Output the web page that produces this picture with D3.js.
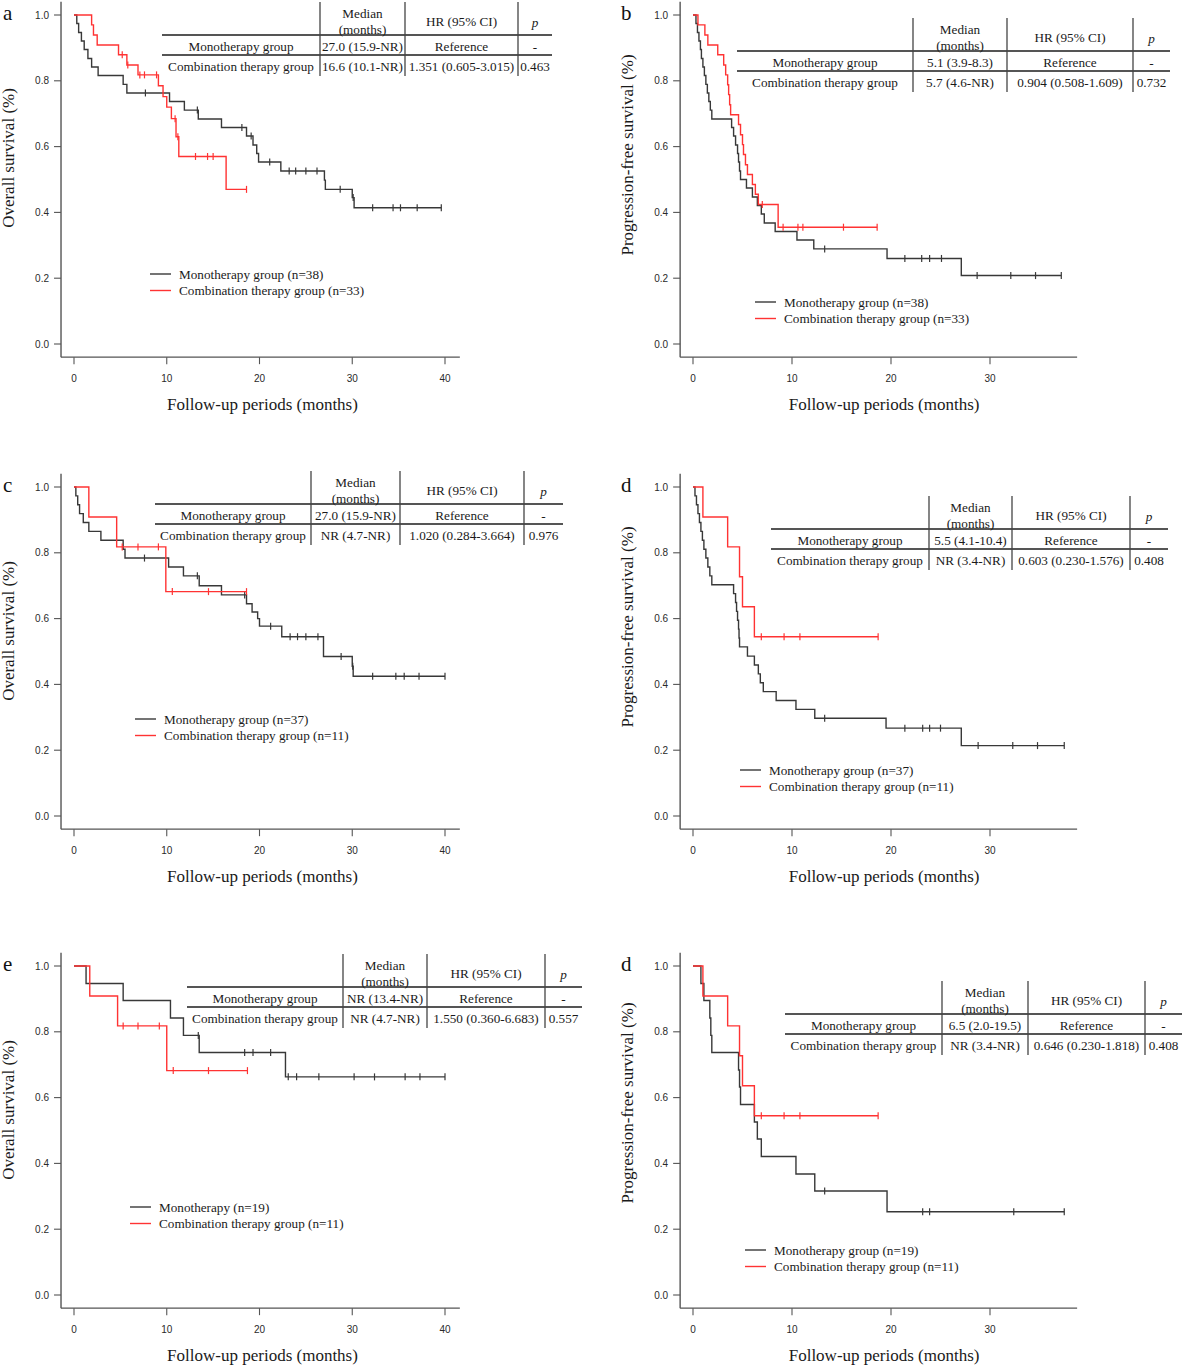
<!DOCTYPE html>
<html>
<head>
<meta charset="utf-8">
<script src="https://cdn.jsdelivr.net/npm/d3@7"></script>
<style>
  body { margin: 0; background: #fff; }
  svg { display: block; }
</style>
</head>
<body>
<div id="chart"></div>
<script>
// Kaplan-Meier steps: [month, survival after the drop]
// a - overall survival, all patients
const aMono = [[0.3,0.974],[0.5,0.947],[0.8,0.921],[1.1,0.895],[1.5,0.868],[1.9,0.842],[2.6,0.816],[5.3,0.789],[5.7,0.763],[10.3,0.737],[11.9,0.711],[13.4,0.684],[15.9,0.658],[18.6,0.632],[19.3,0.605],[19.7,0.579],[19.9,0.553],[22.3,0.526],[27.0,0.498],[27.1,0.47],[30.0,0.445],[30.2,0.414]];
const aMonoCens = [7.7, 13.3, 18.1, 19.1, 21.1, 23.2, 23.9, 25.0, 26.2, 28.7, 30.1, 32.2, 34.4, 35.2, 37.0, 39.6];
const aComb = [[1.9,0.97],[2.1,0.939],[2.5,0.909],[4.8,0.879],[5.7,0.848],[6.9,0.818],[9.1,0.785],[9.6,0.752],[10.0,0.72],[10.5,0.685],[11.0,0.63],[11.3,0.57],[16.4,0.47]];
const aCombCens = [5.2, 5.8, 7.1, 7.6, 8.9, 10.9, 11.2, 13.1, 14.4, 15.0, 18.6];

// b - progression-free survival, all patients
const bMono = [[0.3,0.974],[0.45,0.947],[0.6,0.921],[0.75,0.895],[0.85,0.868],[1.0,0.842],[1.15,0.816],[1.3,0.789],[1.45,0.763],[1.6,0.737],[1.75,0.711],[1.9,0.684],[3.9,0.658],[4.1,0.632],[4.3,0.605],[4.5,0.579],[4.6,0.553],[4.7,0.526],[4.8,0.5],[5.4,0.474],[6.0,0.447],[6.5,0.421],[6.9,0.395],[7.2,0.368],[8.3,0.342],[10.5,0.316],[12.2,0.289],[19.6,0.26],[27.1,0.208]];
const bMonoCens = [13.3, 21.4, 23.1, 23.9, 25.1, 28.7, 32.1, 34.6, 37.2];
const bComb = [[0.5,0.97],[1.2,0.939],[1.5,0.909],[2.5,0.879],[3.1,0.848],[3.3,0.818],[3.5,0.788],[3.6,0.758],[3.7,0.727],[3.8,0.697],[4.6,0.667],[4.8,0.636],[5.0,0.606],[5.1,0.576],[5.3,0.545],[5.5,0.515],[6.0,0.485],[6.3,0.455],[6.6,0.424],[8.6,0.355]];
const bCombCens = [7.0, 9.1, 10.6, 11.1, 15.2, 18.6];

// c - overall survival, subgroup
const cMono = [[0.2,0.973],[0.4,0.946],[0.6,0.919],[1.0,0.892],[1.6,0.865],[2.9,0.838],[5.3,0.811],[5.5,0.784],[10.2,0.757],[11.8,0.73],[13.5,0.70],[15.9,0.672],[18.6,0.645],[19.2,0.62],[19.8,0.60],[20.0,0.577],[22.4,0.545],[26.9,0.485],[30.0,0.455],[30.1,0.425]];
const cMonoCens = [7.6, 13.3, 18.4, 21.2, 23.3, 24.1, 25.0, 26.3, 28.8, 30.05, 32.2, 34.7, 35.6, 37.2, 40.0];
const cComb = [[1.6,0.909],[4.6,0.818],[9.9,0.682]];
const cCombCens = [5.2, 6.9, 9.1, 10.6, 14.5, 18.6];

// d - progression-free survival, subgroup
const dMono = [[0.2,0.973],[0.35,0.946],[0.5,0.919],[0.65,0.892],[0.8,0.865],[0.95,0.838],[1.1,0.811],[1.3,0.784],[1.5,0.757],[1.7,0.73],[1.9,0.703],[4.1,0.676],[4.3,0.649],[4.4,0.622],[4.5,0.595],[4.6,0.568],[4.65,0.541],[4.7,0.514],[5.5,0.486],[6.2,0.459],[6.6,0.432],[6.8,0.405],[7.1,0.378],[8.4,0.351],[10.4,0.324],[12.3,0.297],[19.5,0.267],[27.1,0.214]];
const dMonoCens = [13.3, 21.4, 23.2, 23.9, 25.0, 28.8, 32.3, 34.8, 37.5];
const dComb = [[1.0,0.909],[3.5,0.818],[4.7,0.727],[5.0,0.636],[6.2,0.545]];
const dCombCens = [6.9, 9.2, 10.8, 18.7];

// e - overall survival, second subgroup
const eMono = [[1.3,0.947],[5.3,0.895],[10.4,0.842],[11.8,0.789],[13.5,0.737],[22.8,0.663]];
const eMonoCens = [13.4, 18.4, 19.3, 21.2, 23.1, 24.0, 26.4, 30.2, 32.4, 35.7, 37.3, 40.0];
const eComb = [[1.7,0.909],[4.7,0.818],[10.0,0.682]];
const eCombCens = [5.3, 6.9, 9.2, 10.7, 14.5, 18.7];

// f - progression-free survival, second subgroup
const fMono = [[0.8,0.947],[1.1,0.895],[1.7,0.842],[1.8,0.789],[1.9,0.737],[4.6,0.684],[4.7,0.632],[4.8,0.579],[6.2,0.526],[6.5,0.474],[6.9,0.421],[10.4,0.368],[12.3,0.316],[19.6,0.253]];
const fMonoCens = [13.3, 23.2, 23.9, 32.4, 37.5];
const fComb = [[1.0,0.909],[3.5,0.818],[4.7,0.727],[5.0,0.636],[6.2,0.545]];
const fCombCens = [6.9, 9.2, 10.8, 18.7];

// legends
const aLegend = ['Monotherapy group (n=38)', 'Combination therapy group (n=33)'];
const bLegend = ['Monotherapy group (n=38)', 'Combination therapy group (n=33)'];
const cLegend = ['Monotherapy group (n=37)', 'Combination therapy group (n=11)'];
const dLegend = ['Monotherapy group (n=37)', 'Combination therapy group (n=11)'];
const eLegend = ['Monotherapy (n=19)', 'Combination therapy group (n=11)'];
const fLegend = ['Monotherapy group (n=19)', 'Combination therapy group (n=11)'];

// tables
const rowLabels = ['Monotherapy group', 'Combination therapy group'];
const aMedian = ['27.0 (15.9-NR)', '16.6 (10.1-NR)'];
const aHR = ['Reference', '1.351 (0.605-3.015)'];
const aP = ['-', '0.463'];
const bMedian = ['5.1 (3.9-8.3)', '5.7 (4.6-NR)'];
const bHR = ['Reference', '0.904 (0.508-1.609)'];
const bP = ['-', '0.732'];
const cMedian = ['27.0 (15.9-NR)', 'NR (4.7-NR)'];
const cHR = ['Reference', '1.020 (0.284-3.664)'];
const cP = ['-', '0.976'];
const dMedian = ['5.5 (4.1-10.4)', 'NR (3.4-NR)'];
const dHR = ['Reference', '0.603 (0.230-1.576)'];
const dP = ['-', '0.408'];
const eMedian = ['NR (13.4-NR)', 'NR (4.7-NR)'];
const eHR = ['Reference', '1.550 (0.360-6.683)'];
const eP = ['-', '0.557'];
const fMedian = ['6.5 (2.0-19.5)', 'NR (3.4-NR)'];
const fHR = ['Reference', '0.646 (0.230-1.818)'];
const fP = ['-', '0.408'];

const yTicks = [0, 0.2, 0.4, 0.6, 0.8, 1.0];
const xTicksOS = [0, 10, 20, 30, 40];
const xTicksPFS = [0, 10, 20, 30];
const osTitle = 'Overall survival (%)';
const pfsTitle = 'Progression-free survival (%)';
const xTitle = 'Follow-up periods (months)';

const serif = '"Liberation Serif", "DejaVu Serif", serif';
const sans = '"Liberation Sans", Arial, sans-serif';
const monoColor = '#383838';
const combColor = '#ff3333';

// panel layout
const panels = [
    { letter: 'a', col: 0, top: 15, bottom: 344, mono: aMono, monoCens: aMonoCens, comb: aComb, combCens: aCombCens,
      legend: aLegend, legX: 150, legY: 274, yTitle: osTitle, yTitleY: 158,
      table: { left: 162, cols: [320, 405, 518], right: 552, top: 2 }, median: aMedian, hr: aHR, p: aP },
    { letter: 'b', col: 1, top: 15, bottom: 344, mono: bMono, monoCens: bMonoCens, comb: bComb, combCens: bCombCens,
      legend: bLegend, legX: 755, legY: 302, yTitle: pfsTitle, yTitleY: 155,
      table: { left: 737, cols: [913, 1007, 1133], right: 1170, top: 18 }, median: bMedian, hr: bHR, p: bP },
    { letter: 'c', col: 0, top: 487, bottom: 816, mono: cMono, monoCens: cMonoCens, comb: cComb, combCens: cCombCens,
      legend: cLegend, legX: 135, legY: 719, yTitle: osTitle, yTitleY: 631,
      table: { left: 155, cols: [311, 400, 524], right: 563, top: 471 }, median: cMedian, hr: cHR, p: cP },
    { letter: 'd', col: 1, top: 487, bottom: 816, mono: dMono, monoCens: dMonoCens, comb: dComb, combCens: dCombCens,
      legend: dLegend, legX: 740, legY: 770, yTitle: pfsTitle, yTitleY: 627,
      table: { left: 771, cols: [929, 1012, 1130], right: 1168, top: 496 }, median: dMedian, hr: dHR, p: dP },
    { letter: 'e', col: 0, top: 966, bottom: 1295, mono: eMono, monoCens: eMonoCens, comb: eComb, combCens: eCombCens,
      legend: eLegend, legX: 130, legY: 1207, yTitle: osTitle, yTitleY: 1110,
      table: { left: 187, cols: [343, 427, 545], right: 582, top: 954 }, median: eMedian, hr: eHR, p: eP },
    { letter: 'd', col: 1, top: 966, bottom: 1295, mono: fMono, monoCens: fMonoCens, comb: fComb, combCens: fCombCens,
      legend: fLegend, legX: 745, legY: 1250, yTitle: pfsTitle, yTitleY: 1103,
      table: { left: 785, cols: [942, 1028, 1145], right: 1182, top: 981 }, median: fMedian, hr: fHR, p: fP }
];

// column geometry (left: OS panels to 40 months, right: PFS panels to 30)
const columns = [
    { x0: 74, x1: 445, max: 40, lo: -1.4, hi: 41.6, ticks: xTicksOS, letterX: 3, titleX: 8, titleMid: 20 },
    { x0: 693, x1: 990, max: 30, lo: -1.3, hi: 38.8, ticks: xTicksPFS, letterX: 621, titleX: 627, titleMid: 19 }
];

const svg = d3.select('#chart')
    .append('svg')
    .attr('width', 1182)
    .attr('height', 1366);

svg.append('rect').attr('width', 1182).attr('height', 1366).attr('fill', '#fff');

// survival value at time t for a step list
function survAt(steps, t) {
    let s = 1;
    steps.forEach(d => { if (d[0] <= t) s = d[1]; });
    return s;
}

function drawPanel(p) {
    const c = columns[p.col];
    const x = d3.scaleLinear().domain([0, c.max]).range([c.x0, c.x1]);
    const y = d3.scaleLinear().domain([0, 1]).range([p.bottom, p.top]);
    const g = svg.append('g');

    const axisY = x(c.lo);
    const axisX = y(-0.04);

    // Axis lines
    g.append('line')
        .attr('x1', axisY).attr('x2', axisY)
        .attr('y1', y(1.04)).attr('y2', axisX)
        .attr('stroke', '#555').attr('stroke-width', 1.4);
    g.append('line')
        .attr('x1', axisY).attr('x2', x(c.hi))
        .attr('y1', axisX).attr('y2', axisX)
        .attr('stroke', '#555').attr('stroke-width', 1.4);

    // Y ticks
    g.selectAll('.yt')
        .data(yTicks)
        .join('line')
        .attr('x1', axisY - 7).attr('x2', axisY)
        .attr('y1', d => y(d)).attr('y2', d => y(d))
        .attr('stroke', '#555').attr('stroke-width', 1.1);
    g.selectAll('.yl')
        .data(yTicks)
        .join('text')
        .attr('x', axisY - 12)
        .attr('y', d => y(d))
        .attr('dy', '0.35em')
        .attr('text-anchor', 'end')
        .attr('font-family', sans)
        .attr('font-size', 10)
        .attr('fill', '#2a2a2a')
        .text(d => d.toFixed(1));

    // X ticks
    g.selectAll('.xt')
        .data(c.ticks)
        .join('line')
        .attr('x1', d => x(d)).attr('x2', d => x(d))
        .attr('y1', axisX).attr('y2', axisX + 7)
        .attr('stroke', '#555').attr('stroke-width', 1.1);
    g.selectAll('.xl')
        .data(c.ticks)
        .join('text')
        .attr('x', d => x(d))
        .attr('y', axisX + 21)
        .attr('dy', '0.35em')
        .attr('text-anchor', 'middle')
        .attr('font-family', sans)
        .attr('font-size', 10)
        .attr('fill', '#2a2a2a')
        .text(d => d);

    // Axis titles
    g.append('text')
        .attr('x', x(c.titleMid) + 3)
        .attr('y', axisX + 47)
        .attr('dy', '0.35em')
        .attr('text-anchor', 'middle')
        .attr('font-family', serif)
        .attr('font-size', 17)
        .attr('fill', '#1a1a1a')
        .text(xTitle);
    g.append('text')
        .attr('transform', `translate(${c.titleX},${p.yTitleY}) rotate(-90)`)
        .attr('dy', '0.35em')
        .attr('text-anchor', 'middle')
        .attr('font-family', serif)
        .attr('font-size', 17)
        .attr('fill', '#1a1a1a')
        .text(p.yTitle);

    // Panel letter
    g.append('text')
        .attr('x', c.letterX)
        .attr('y', p.top + 5)
        .attr('font-family', serif)
        .attr('font-size', 21)
        .attr('fill', '#111')
        .text(p.letter);

    // Curves
    const line = d3.line()
        .x(d => x(d[0]))
        .y(d => y(d[1]))
        .curve(d3.curveStepAfter);

    [[p.mono, p.monoCens, monoColor], [p.comb, p.combCens, combColor]].forEach(([steps, cens, color]) => {
        const last = steps[steps.length - 1];
        const end = Math.max(last[0], d3.max(cens));
        const pts = [[0, 1]].concat(steps, [[end, last[1]]]);
        g.append('path')
            .attr('d', line(pts))
            .attr('fill', 'none')
            .attr('stroke', color)
            .attr('stroke-width', 1.4);
        g.selectAll(null)
            .data(cens)
            .join('line')
            .attr('x1', d => x(d)).attr('x2', d => x(d))
            .attr('y1', d => y(survAt(steps, d)) - 3.5)
            .attr('y2', d => y(survAt(steps, d)) + 3.5)
            .attr('stroke', color)
            .attr('stroke-width', 1.2);
    });

    // Legend
    const leg = g.append('g');
    p.legend.forEach((label, i) => {
        const ly = p.legY + i * 16.5;
        leg.append('line')
            .attr('x1', p.legX).attr('x2', p.legX + 21)
            .attr('y1', ly).attr('y2', ly)
            .attr('stroke', i === 0 ? monoColor : combColor)
            .attr('stroke-width', 1.4);
        leg.append('text')
            .attr('x', p.legX + 29)
            .attr('y', ly)
            .attr('dy', '0.35em')
            .attr('font-family', serif)
            .attr('font-size', 13.2)
            .attr('fill', '#1a1a1a')
            .text(label);
    });

    drawTable(g, p);
}

function drawTable(g, p) {
    const t = p.table;
    const edges = [t.left].concat(t.cols, [t.right]);
    const mid = i => (edges[i] + edges[i + 1]) / 2;
    const tg = g.append('g')
        .attr('font-family', serif)
        .attr('font-size', 13.2)
        .attr('fill', '#1a1a1a');

    // horizontal rules
    [t.top + 33, t.top + 53].forEach(ly => {
        tg.append('line')
            .attr('x1', t.left).attr('x2', t.right)
            .attr('y1', ly).attr('y2', ly)
            .attr('stroke', '#555').attr('stroke-width', 2);
    });
    // vertical rules
    t.cols.forEach(cx => {
        tg.append('line')
            .attr('x1', cx).attr('x2', cx)
            .attr('y1', t.top).attr('y2', t.top + 74)
            .attr('stroke', '#444').attr('stroke-width', 1.3);
    });

    const cell = (cx, cy, txt, italic) => tg.append('text')
        .attr('x', cx).attr('y', cy)
        .attr('dy', '0.35em')
        .attr('text-anchor', 'middle')
        .attr('font-style', italic ? 'italic' : null)
        .text(txt);

    cell(mid(1), t.top + 11, 'Median');
    cell(mid(1), t.top + 27, '(months)');
    cell(mid(2), t.top + 19, 'HR (95% CI)');
    cell(mid(3), t.top + 20, 'p', true);

    rowLabels.forEach((lab, i) => {
        const cy = t.top + 44 + i * 20;
        cell(mid(0), cy, lab);
        cell(mid(1), cy, p.median[i]);
        cell(mid(2), cy, p.hr[i]);
        cell(mid(3), cy, p.p[i]);
    });
}

panels.forEach(drawPanel);
</script>
</body>
</html>
